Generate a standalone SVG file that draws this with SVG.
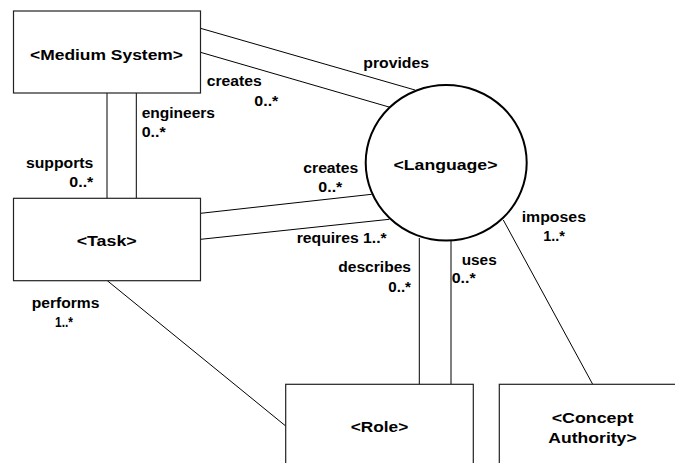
<svg xmlns="http://www.w3.org/2000/svg" width="675" height="463" viewBox="0 0 675 463">
  <style>
    .box { fill: #fff; stroke: #222; stroke-width: 1.2; }
    .circ { fill: #fff; stroke: #000; stroke-width: 2; }
    .conn line { stroke: #000; stroke-width: 1; }
    text { font-family: "Liberation Sans", Arial, sans-serif; font-weight: bold; fill: #000; }
    .name { font-size: 15.5px; text-anchor: middle; }
    .lbl { font-size: 14px; }
  </style>
  <rect width="675" height="463" fill="#fff"/>

  <!-- associations -->
  <g id="connectors" class="conn">
    <line x1="200.5" y1="28.3" x2="415" y2="90"/>
    <line x1="200.5" y1="52.3" x2="390" y2="107.3"/>
    <line x1="107" y1="93" x2="107" y2="198.3"/>
    <line x1="136.3" y1="93" x2="136.3" y2="198.3"/>
    <line x1="200.7" y1="213.3" x2="371.7" y2="194.3"/>
    <line x1="200.7" y1="239.3" x2="389.3" y2="219.3"/>
    <line x1="107.3" y1="280.7" x2="285.7" y2="426"/>
    <line x1="419.3" y1="238" x2="419.3" y2="384.3"/>
    <line x1="451" y1="238" x2="451" y2="384.3"/>
    <line x1="503.3" y1="220" x2="592.7" y2="384.3"/>
  </g>

  <g id="medium-system">
    <rect class="box" x="13.5" y="11" width="187" height="82"/>
    <text class="name" x="106.5" y="60" textLength="153" lengthAdjust="spacingAndGlyphs">&lt;Medium System&gt;</text>
  </g>

  <g id="task">
    <rect class="box" x="13.5" y="198.3" width="187" height="82.4"/>
    <text class="name" x="106.7" y="245.7" textLength="60" lengthAdjust="spacingAndGlyphs">&lt;Task&gt;</text>
  </g>

  <g id="language">
    <ellipse class="circ" cx="446.2" cy="162.8" rx="80.5" ry="77.8"/>
    <text class="name" x="445.5" y="170" textLength="104" lengthAdjust="spacingAndGlyphs">&lt;Language&gt;</text>
  </g>

  <g id="role">
    <rect class="box" x="285.7" y="384.3" width="187.6" height="100"/>
    <text class="name" x="379.5" y="432.3" textLength="57.6" lengthAdjust="spacingAndGlyphs">&lt;Role&gt;</text>
  </g>

  <g id="concept-authority">
    <rect class="box" x="499.3" y="384.3" width="200" height="100"/>
    <text class="name" x="592.5" y="422.7" textLength="81.7" lengthAdjust="spacingAndGlyphs">&lt;Concept</text>
    <text class="name" x="592.5" y="443.3" textLength="88.3" lengthAdjust="spacingAndGlyphs">Authority&gt;</text>
  </g>

  <!-- role names and multiplicities -->
  <g id="labels" class="lbl">
    <text x="363.3" y="67.7" textLength="65.7" lengthAdjust="spacingAndGlyphs">provides</text>
    <text x="206.7" y="86" textLength="55" lengthAdjust="spacingAndGlyphs">creates</text>
    <text x="254.3" y="105.5" textLength="24" lengthAdjust="spacingAndGlyphs">0..*</text>
    <text x="141.7" y="118.3" textLength="73.3" lengthAdjust="spacingAndGlyphs">engineers</text>
    <text x="141.7" y="137.3" textLength="24" lengthAdjust="spacingAndGlyphs">0..*</text>
    <text x="26" y="168.3" textLength="67.3" lengthAdjust="spacingAndGlyphs">supports</text>
    <text x="69.3" y="186.7" textLength="24" lengthAdjust="spacingAndGlyphs">0..*</text>
    <text x="303.3" y="173.3" textLength="55" lengthAdjust="spacingAndGlyphs">creates</text>
    <text x="318.3" y="191.7" textLength="24" lengthAdjust="spacingAndGlyphs">0..*</text>
    <text x="296.7" y="243.3" textLength="90" lengthAdjust="spacingAndGlyphs">requires 1..*</text>
    <text x="338.3" y="272.3" textLength="72.7" lengthAdjust="spacingAndGlyphs">describes</text>
    <text x="388.3" y="292.3" textLength="22.7" lengthAdjust="spacingAndGlyphs">0..*</text>
    <text x="461.7" y="265" textLength="35" lengthAdjust="spacingAndGlyphs">uses</text>
    <text x="451.7" y="283.3" textLength="24" lengthAdjust="spacingAndGlyphs">0..*</text>
    <text x="521.7" y="221.7" textLength="64.3" lengthAdjust="spacingAndGlyphs">imposes</text>
    <text x="543.3" y="240.7" textLength="21.7" lengthAdjust="spacingAndGlyphs">1..*</text>
    <text x="31.7" y="308.3" textLength="67.7" lengthAdjust="spacingAndGlyphs">performs</text>
    <text x="55" y="326.7" textLength="18" lengthAdjust="spacingAndGlyphs">1..*</text>
  </g>
</svg>
